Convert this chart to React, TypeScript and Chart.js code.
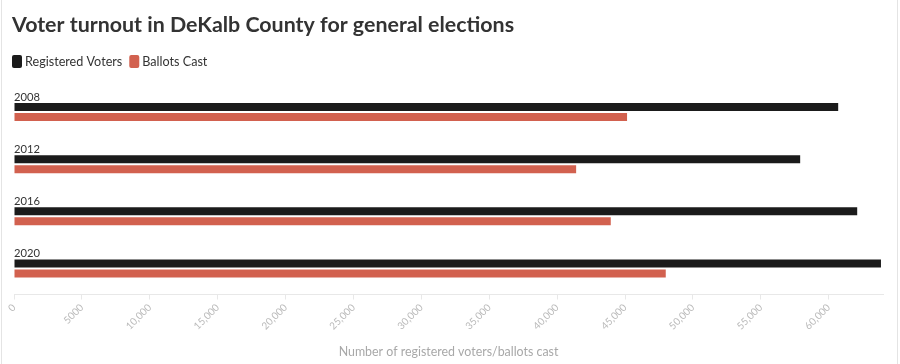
import React, { useEffect, useRef } from "react";
import { Chart, registerables } from "chart.js";

Chart.register(...registerables);

const TITLE = "Voter turnout in DeKalb County for general elections";
const X_TITLE = "Number of registered voters/ballots cast";
const years = ["2008", "2012", "2016", "2020"];
const registeredVoters = [60700, 57900, 62100, 63850];
const ballotsCast = [45150, 41400, 43950, 48000];
const seriesNames = ["Registered Voters", "Ballots Cast"];
const tickValues = [0, 5000, 10000, 15000, 20000, 25000, 30000, 35000, 40000, 45000, 50000, 55000, 60000];
const tickLabels = ["0", "5000", "10,000", "15,000", "20,000", "25,000", "30,000", "35,000", "40,000", "45,000", "50,000", "55,000", "60,000"];
const X_MAX = 64000;

const FONT = "Lato, 'Open Sans', 'DejaVu Sans', sans-serif";
const BLACK = "#1b1b1b";
const RED = "#d2614f";

const headerPlugin = {
  id: "header",
  afterDraw(chart: any) {
    const { ctx } = chart;
    ctx.save();
    ctx.fillStyle = "#333333";
    ctx.font = `bold 21.4px ${FONT}`;
    ctx.textAlign = "left";
    ctx.textBaseline = "alphabetic";
    ctx.fillText(TITLE, 12, 32);
    // legend
    ctx.font = `12.6px ${FONT}`;
    let x = 12;
    chart.data.datasets.forEach((ds: any) => {
      ctx.fillStyle = ds.backgroundColor;
      ctx.beginPath();
      (ctx as any).roundRect(x, 55, 10, 13, 2);
      ctx.fill();
      ctx.fillStyle = "#333333";
      ctx.fillText(ds.label, x + 13, 66);
      x += 13 + ctx.measureText(ds.label).width + 7;
    });
    ctx.restore();
  },
};

const categoryLabelPlugin = {
  id: "categoryLabels",
  afterDatasetsDraw(chart: any) {
    const { ctx, chartArea } = chart;
    const yScale = chart.scales.y;
    ctx.save();
    ctx.font = `11.2px ${FONT}`;
    ctx.fillStyle = "#333333";
    ctx.textAlign = "left";
    ctx.textBaseline = "alphabetic";
    years.forEach((label, i) => {
      const y = yScale.getPixelForValue(i);
      ctx.fillText(label, chartArea.left, y - 11.5);
    });
    ctx.restore();
  },
};

export default function App() {
  const canvasRef = useRef<HTMLCanvasElement | null>(null);

  useEffect(() => {
    document.body.style.margin = "0";
    const canvas = canvasRef.current;
    if (!canvas) return;
    const chart = new Chart(canvas, {
      type: "bar",
      data: {
        labels: years,
        datasets: [
          {
            label: seriesNames[0],
            data: registeredVoters,
            backgroundColor: BLACK,
            borderWidth: 0,
            categoryPercentage: 0.382,
            barPercentage: 0.8,
          },
          {
            label: seriesNames[1],
            data: ballotsCast,
            backgroundColor: RED,
            borderWidth: 0,
            categoryPercentage: 0.382,
            barPercentage: 0.8,
          },
        ],
      },
      options: {
        indexAxis: "y",
        animation: false,
        responsive: false,
        maintainAspectRatio: false,
        devicePixelRatio: 1,
        layout: { padding: { left: 14, right: 17, top: 86, bottom: 4 } },
        plugins: {
          title: { display: false },
          legend: { display: false },
          tooltip: { enabled: false },
        },
        scales: {
          y: {
            display: false,
            offset: true,
          },
          x: {
            type: "linear",
            min: 0,
            max: X_MAX,
            position: "bottom",
            border: { display: true, color: "#e8e8e8", width: 1 },
            grid: { drawOnChartArea: false, drawTicks: true, tickLength: 5, color: "#e8e8e8" },
            afterBuildTicks(scale: any) {
              scale.ticks = tickValues.map((v) => ({ value: v }));
            },
            ticks: {
              minRotation: 45,
              maxRotation: 45,
              color: "#bababa",
              font: { family: FONT, size: 10 },
              padding: 2,
              callback: (_v: any, i: number) => tickLabels[i],
            },
            title: {
              display: true,
              text: X_TITLE,
              color: "#a8a8a8",
              font: { family: FONT, size: 12.4 },
              padding: { top: 10, bottom: 1 },
            },
          },
        },
      },
      plugins: [headerPlugin, categoryLabelPlugin],
    });
    return () => chart.destroy();
  }, []);

  return (
    <div
      style={{
        position: "absolute",
        left: 0,
        top: 0,
        width: 900,
        height: 364,
        background: "#ffffff",
        overflow: "hidden",
      }}
    >
      <div
        style={{
          position: "absolute",
          left: 1,
          top: 0,
          width: 897,
          height: 364,
          boxSizing: "border-box",
          borderLeft: "1px solid #e4e4e4",
          borderRight: "1px solid #e4e4e4",
        }}
      />
      <canvas ref={canvasRef} width={900} height={364} style={{ position: "absolute", left: 0, top: 0 }} />
    </div>
  );
}
